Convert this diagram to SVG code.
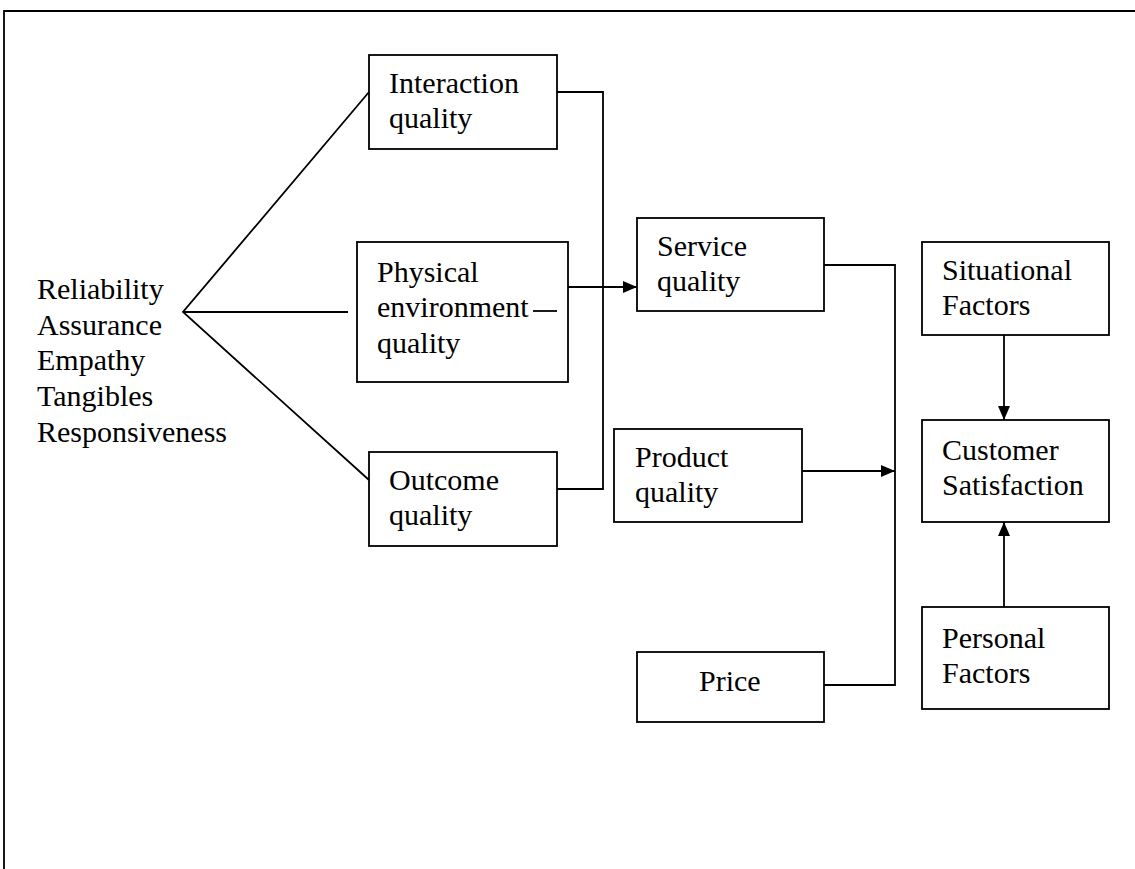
<svg xmlns="http://www.w3.org/2000/svg" width="1135" height="869" viewBox="0 0 1135 869">
<style>
.box{fill:#fff;stroke:#000;stroke-width:1.8}
.ln{fill:none;stroke:#000;stroke-width:1.8}
text{font-family:"Liberation Serif","Times New Roman",serif;font-size:30px;fill:#000}
</style>
<defs>
<marker id="ah" viewBox="0 0 14 12" refX="14" refY="6" markerWidth="14" markerHeight="12" markerUnits="userSpaceOnUse" orient="auto">
<path d="M0,0 L14,6 L0,12 Z" fill="#000"/>
</marker>
</defs>
<rect width="1135" height="869" fill="#fff"/>
<g id="frame"><path class="ln" d="M4,869 V11 H1135" stroke-width="2.2"/></g>
<g id="dimensions">
<text x="37" y="299">Reliability</text>
<text x="37" y="335">Assurance</text>
<text x="37" y="370">Empathy</text>
<text x="37" y="406">Tangibles</text>
<text x="37" y="442">Responsiveness</text>
</g>
<g id="interaction"><rect class="box" x="369" y="55" width="188" height="94"/><text x="389" y="93">Interaction</text><text x="389" y="128">quality</text></g>
<g id="physical"><rect class="box" x="357" y="242" width="211" height="140"/><text x="377" y="282">Physical</text><text x="377" y="317">environment</text><text x="377" y="353">quality</text></g>
<g id="outcome"><rect class="box" x="369" y="452" width="188" height="94"/><text x="389" y="490">Outcome</text><text x="389" y="525">quality</text></g>
<g id="service"><rect class="box" x="637" y="218" width="187" height="93"/><text x="657" y="256">Service</text><text x="657" y="291">quality</text></g>
<g id="product"><rect class="box" x="614" y="429" width="188" height="93"/><text x="635" y="467">Product</text><text x="635" y="502">quality</text></g>
<g id="price"><rect class="box" x="637" y="652" width="187" height="70"/><text x="699" y="691">Price</text></g>
<g id="situational"><rect class="box" x="922" y="242" width="187" height="93"/><text x="942" y="280">Situational</text><text x="942" y="315">Factors</text></g>
<g id="customer"><rect class="box" x="922" y="420" width="187" height="102"/><text x="942" y="460">Customer</text><text x="942" y="495">Satisfaction</text></g>
<g id="personal"><rect class="box" x="922" y="607" width="187" height="102"/><text x="942" y="648">Personal</text><text x="942" y="683">Factors</text></g>
<g id="connectors">
<path class="ln" d="M369,92 L183,312 L369,480"/>
<path class="ln" d="M183,312 H348"/>
<path class="ln" d="M533,311 H557"/>
<path class="ln" d="M557,92 H603 V489 H557"/>
<path class="ln" d="M568,287 H637" marker-end="url(#ah)"/>
<path class="ln" d="M824,265 H895 V685 H824"/>
<path class="ln" d="M802,471 H895" marker-end="url(#ah)"/>
<path class="ln" d="M1004,335 V420" marker-end="url(#ah)"/>
<path class="ln" d="M1004,607 V522" marker-end="url(#ah)"/>
</g>
</svg>
